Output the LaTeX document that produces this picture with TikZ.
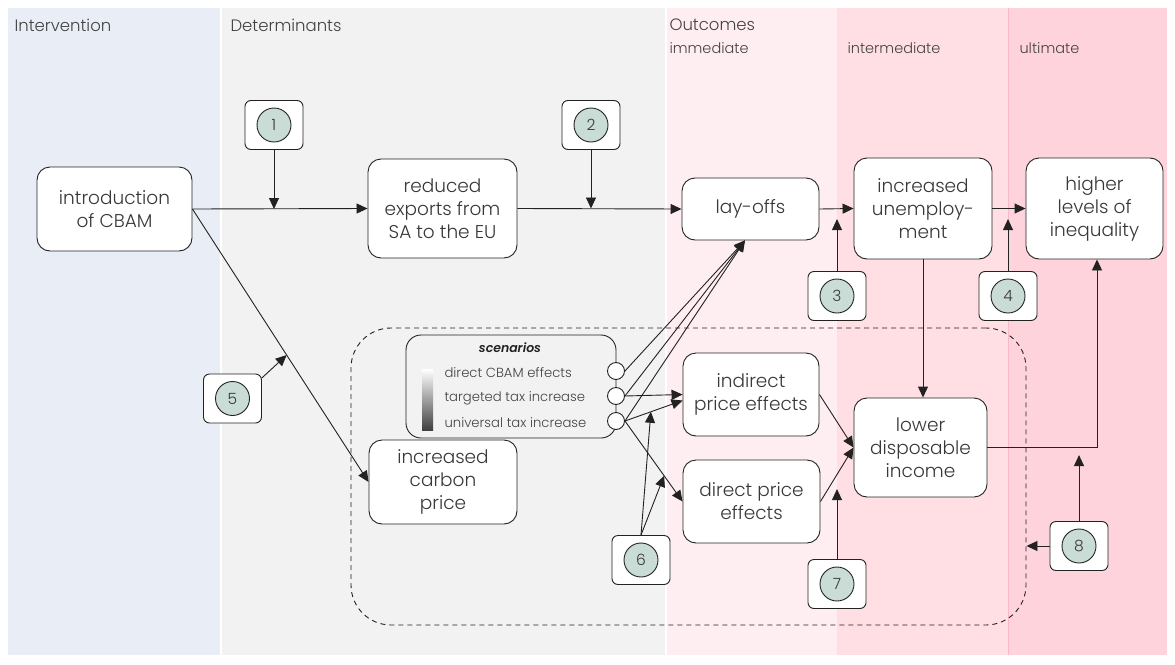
\documentclass[tikz,border=0pt]{standalone}
\usepackage{fontspec}
\IfFontExistsTF{Poppins Light}{\setmainfont{Poppins}[UprightFont=* Light,BoldFont=* SemiBold,ItalicFont=* Light Italic,BoldItalicFont=* SemiBold Italic]}{\setmainfont{Poppins}}
\usetikzlibrary{arrows.meta,calc}
\definecolor{colA}{HTML}{E9EEF6}
\definecolor{colB}{HTML}{F2F2F2}
\definecolor{colC}{HTML}{FFEEF1}
\definecolor{colD}{HTML}{FFDEE4}
\definecolor{colE}{HTML}{FFD3DC}
\definecolor{colEline}{HTML}{F9B9C6}
\definecolor{markfill}{HTML}{C9DCD6}
\definecolor{ink}{HTML}{222222}
\tikzset{
  box/.style={draw=ink, line width=0.9pt, rounded corners=13pt, fill=white, align=center,
    inner sep=0pt, font=\fontsize{18.5}{23}\selectfont, text=ink!90},
  mbox/.style={draw=ink, line width=0.9pt, rounded corners=6pt, fill=white,
    minimum width=58pt, minimum height=49pt, inner sep=0pt},
  mcirc/.style={draw=ink, line width=0.9pt, circle, fill=markfill, minimum size=34pt,
    inner sep=0pt, font=\fontsize{15.5}{15.5}\selectfont, text=ink!90},
  sc/.style={draw=ink, line width=0.9pt, circle, fill=white, minimum size=17pt, inner sep=0pt},
  arr/.style={draw=ink, line width=0.9pt, -{Triangle[length=11pt,width=10pt]}},
  head/.style={anchor=west, font=\fontsize{16.5}{16.5}\selectfont, text=ink!85},
  sub/.style={anchor=west, font=\fontsize{14.5}{14.5}\selectfont, text=ink!85},
  item/.style={anchor=west, font=\fontsize{13.2}{13.2}\selectfont, text=ink!85},
}
\newcommand\mk[3]{\node[mbox] (#1) at (#2) {}; \node[mcirc] at (#1) {#3};}
\begin{document}
\begin{tikzpicture}[x=1pt,y=-1pt]
\useasboundingbox (0,0) rectangle (1175,664);
\fill[white] (0,0) rectangle (1175,664);
% column backgrounds
\fill[colA] (8,8) rectangle (220,655);
\fill[colB] (222,8) rectangle (665,655);
\fill[colC] (667,8) rectangle (837,655);
\fill[colD] (837,8) rectangle (1008,655);
\fill[colE] (1008,8) rectangle (1167,655);
\draw[colEline, line width=0.8pt] (1008,8) -- (1008,655);
% column headings
\node[head] (hInt) at (11,25) {Intervention};
\node[head] (hDet) at (227,25) {Determinants};
\node[head] (hOut) at (666,25) {Outcomes};
\node[sub] (hImm) at (666,48) {immediate};
\node[sub] (hMid) at (844,48) {intermediate};
\node[sub] (hUlt) at (1016,48) {ultimate};
% group of price effects
\node[draw=ink, line width=0.9pt, dash pattern=on 5pt off 4pt, rounded corners=40pt,
  minimum width=675pt, minimum height=297pt, inner sep=0pt] (grp) at (688.5,476.5) {};
% scenarios panel
\node[draw=ink, line width=0.9pt, rounded corners=15pt, fill=colB,
  minimum width=210pt, minimum height=103pt, inner sep=0pt] (scen) at (511,386.5) {};
\node[font=\fontsize{12.5}{12.5}\selectfont\bfseries\itshape, text=ink] (scT) at (510,348) {scenarios};
\shade[top color=white, bottom color=black!75] (422,369) rectangle (433,430);
\node[item] (s1) at (441,373) {direct CBAM effects};
\node[item] (s2) at (441,398) {targeted tax increase};
\node[item] (s3) at (441,423) {universal tax increase};
\node[sc] (c1) at (616,371) {};
\node[sc] (c2) at (616,396) {};
\node[sc] (c3) at (616,421) {};
% main nodes
\node[box, minimum width=155pt, minimum height=84pt] (intro) at (114.5,209) {introduction\\of CBAM};
\node[box, minimum width=149pt, minimum height=99pt] (reduced) at (442.5,208.5) {reduced\\exports from\\SA to the EU};
\node[box, minimum width=137pt, minimum height=62pt] (layoffs) at (750.5,209) {lay-offs};
\node[box, minimum width=138pt, minimum height=101pt] (unemp) at (923,208.5) {increased\\unemploy-\\ment};
\node[box, minimum width=137pt, minimum height=101pt] (ineq) at (1094.5,208.5) {higher\\levels of\\inequality};
\node[box, minimum width=136pt, minimum height=83pt] (indirect) at (751,394.5) {indirect\\price effects};
\node[box, minimum width=137pt, minimum height=83pt] (direct) at (751.5,501.5) {direct price\\effects};
\node[box, minimum width=133pt, minimum height=99pt] (lower) at (920.5,447.5) {lower\\disposable\\income};
\node[box, minimum width=148pt, minimum height=84pt] (carbon) at (443,482) {increased\\carbon\\price};
% numbered markers
\mk{m1}{274,125}{1}
\mk{m2}{591,125}{2}
\mk{m3}{837,296}{3}
\mk{m4}{1008,296}{4}
\mk{m5}{232.5,398.5}{5}
\mk{m6}{641,560}{6}
\mk{m7}{837,584}{7}
\mk{m8}{1079,546}{8}
% causal chain
\draw[arr] (intro.east) -- (reduced.west);
\draw[arr] (reduced.east) -- (layoffs.west);
\draw[arr] (layoffs.east) -- (unemp.west);
\draw[arr] (unemp.east) -- (ineq.west);
\draw[arr] (intro.east) -- (carbon.west);
\draw[arr] (unemp.south) -- (unemp.south |- lower.north);
\draw[arr] (c1.east) -- (layoffs.260);
\draw[arr] (c2.east) -- (layoffs.260);
\draw[arr] (c3.east) -- (layoffs.260);
\draw[arr] (c2.east) -- (indirect.west);
\draw[arr] (c3.east) -- (indirect.185);
\draw[arr] (c3.east) -- (direct.west);
\draw[arr] (indirect.east) -- (lower.west);
\draw[arr] (direct.east) -- (lower.west);
\draw[arr] (lower.east) -| ($(ineq.south)+(2.5,0)$);
% moderating factors
\draw[arr] (m1.south) -- (m1.south |- intro.east);
\draw[arr] (m2.south) -- (m2.south |- reduced.east);
\draw[arr] (m3.north) -- ++(0,-52);
\draw[arr] (m4.north) -- ++(0,-52);
\draw[arr] (m5.35) -- ($(intro.east)!0.535!(carbon.west)$);
\draw[arr] (m6.north) -- ($(c3.east)!0.45!(indirect.185)$);
\draw[arr] (m6.north) -- ($(c3.east)!0.68!(direct.west)$);
\draw[arr] (m7.north) -- ++(0,-70);
\draw[arr] (m8.north) -- ++(0,-66);
\draw[arr] (m8.west) -- (m8.west -| grp.east);
\end{tikzpicture}
\end{document}
